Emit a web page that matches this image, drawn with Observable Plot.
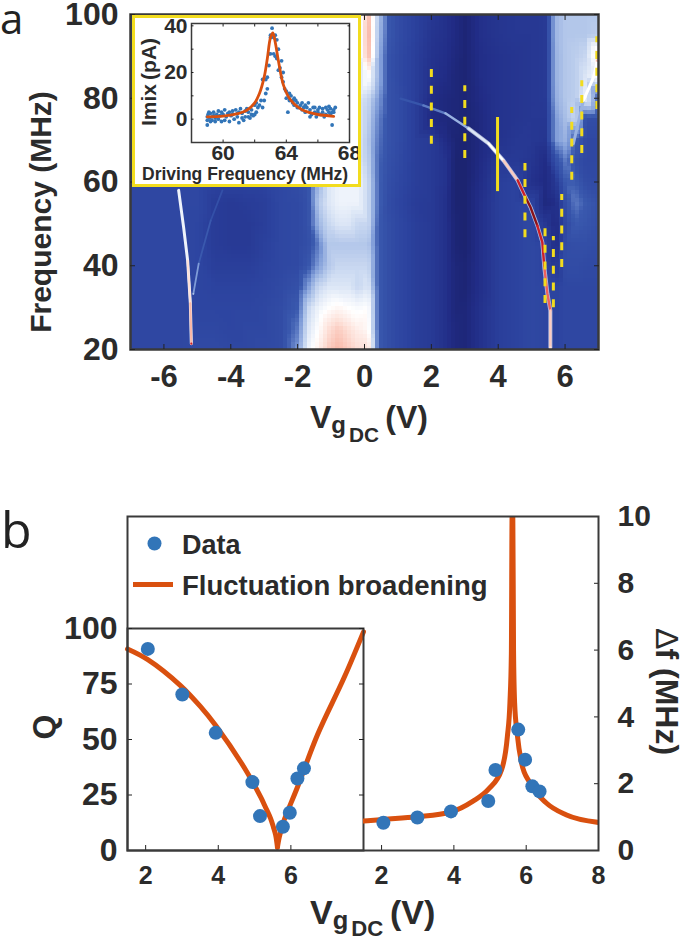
<!DOCTYPE html>
<html><head><meta charset="utf-8">
<script src="https://cdn.jsdelivr.net/npm/d3@7"></script>
<script src="https://cdn.jsdelivr.net/npm/@observablehq/plot@0.6"></script>
<style>
html,body{margin:0;padding:0;background:#fff;}
#page{position:relative;width:685px;height:943px;overflow:hidden;font-family:"Liberation Sans",Arial,sans-serif;color:#2b2b2b;}
#page svg{position:absolute;background:transparent;overflow:visible;}
.lab{position:absolute;font-weight:700;white-space:nowrap;line-height:1;}
.let{position:absolute;font-family:"Open Sans",sans-serif;font-weight:400;color:#222;}
</style></head><body><div id="page"></div>
<script>
// Heat map: sample columns (gate voltage), rows (frequency) and level per row
const heatV = [-7,-6.5,-6,-5.5,-5,-4.5,-4,-3.5,-3,-2.5,-2,-1.7,-1.4,-1.1,-0.8,-0.5,-0.2,0.1,0.4,0.7,1,1.5,2,2.4,2.7,3,3.5,4,4.5,5,5.4,5.7,6,6.3,6.6,7];
const heatF = [100,95,90,85,80,75,70,65,60,55,50,45,40,35,30,25,20];
const row100=[2.2,2.2,2.2,2.2,2.2,2.2,2.2,2.2,2.2,2.2,2.4,2.6,3,4,5,6,6,9,5,2.9,2.4,1.9,1.5,1.2,0.9,0.6,1.2,1.4,1.5,1.5,1.6,4.6,5,5,5,5];
const row95 =[2.2,2.2,2.2,2.2,2.2,2.2,2.2,2.2,2.2,2.2,2.4,2.6,3,4,5,6,6,9.2,4.8,2.9,2.4,1.9,1.4,1.2,0.9,0.6,1.2,1.4,1.5,1.5,1.6,4.6,5,5,5,5.2];
const row90 =[2.2,2.2,2.2,2.2,2.2,2.2,2.2,2.2,2.2,2.2,2.4,2.6,3,4,5,6,6,9,4.5,2.7,2.3,1.8,1.3,1.1,0.8,0.6,1.1,1.3,1.4,1.5,1.6,4.5,5,5.2,5.5,8];
const row85 =[2.2,2.2,2.2,2.2,2.2,2.2,2.2,2.2,2.2,2.2,2.4,2.6,3,4,5,6,6,7,4.5,2.7,2.3,1.8,1.2,1,0.7,0.6,1.1,1.3,1.4,1.5,1.6,4.5,5,5.2,6,7];
const row80 =[2.2,2.2,2.2,2.2,2.2,2.2,2.2,2.2,2.2,2.2,2.4,2.6,3,4,5,6,6,5.5,4,2.7,2.4,1.8,1,0.8,0.7,0.6,1,1.3,1.4,1.5,1.6,4.4,5,5.2,6.5,3];
const row75 =[2.2,2.2,2.2,2.2,2.2,2.2,2.2,2.2,2.2,2.2,2.4,2.6,3,4,5,6,6,5.2,3.6,2.7,2.4,1.8,0.9,0.8,0.7,0.6,0.9,1.3,1.4,1.5,1.5,4,4.8,5.5,2.5,2.4];
const row70 =[2.2,2.2,2.2,2.2,2.2,2.2,2.2,2.2,2.2,2.2,2.4,2.6,3,4,5,6,6,5,3.4,2.7,2.4,1.8,1.6,1,0.6,0.5,0.9,1.3,1.5,1.5,1.4,4,4.5,3,2.2,2.2];
const row65 =[2.2,2.2,2.2,2.2,2.2,2.2,2.2,2.2,2.2,2.2,2.4,2.6,4,5,6,6,6,5.2,3.2,2.6,2.3,1.8,1.6,1.3,0.5,0.5,1,1.6,1.6,1.4,1,2.5,3.5,2.5,2.2,2.2];
const row60 =[2.2,2.2,2.2,2.2,2.2,2,2,2,2,2.2,2.4,2.6,4.5,6,6.5,6.5,6.5,5.5,3.2,2.5,2.2,1.8,1.6,1.3,0.5,0.5,1.1,1.8,2,1.2,0.9,1.5,3,3,2.4,2.3];
const row55 =[2.2,2.2,2.2,2.2,2.2,1.7,1.6,1.7,1.8,2.2,2.3,2.6,5,6,6.5,6.5,6.5,5.5,3.2,2.4,2.1,1.7,1.6,1.2,0.5,0.5,1.2,1.8,2,2,0.8,1,2.5,3.5,3,2.6];
const row50 =[2.2,2.2,2.2,2.2,2.1,1.7,1.6,1.6,1.8,2.2,2.3,2.6,4.5,5.5,6,6,5.5,5.5,3,2.5,2.2,1.8,1.6,1.2,0.6,0.5,1.2,1.8,2,2.2,1.5,0.9,2.2,3,2.8,2.5];
const row45 =[2.2,2.2,2.2,2.2,2.1,1.7,1.6,1.6,1.9,2.2,2.3,2.5,3.5,5,5,5,5,5,3,2.5,2.2,1.8,1.6,1.2,0.6,0.5,1.2,1.8,2,2.2,2,1,2.4,2.5,2.5,2.4];
const row40 =[2.2,2.2,2.2,2.2,2.1,1.8,1.8,1.8,2,2.2,2.3,2.8,4,5,5.5,5.5,5.5,5.5,3,2.5,2.2,1.8,1.6,1.2,0.7,0.6,1.2,1.8,2,2.2,2,1.5,2.4,2.4,2.3,2.3];
const row35 =[2.2,2.2,2.2,2.2,2.1,2,2,2,2.1,2.3,2.6,4,5.5,6,6,6,5.5,6,3,2.5,2.2,1.8,1.6,1.2,0.7,0.6,1.2,1.8,2,2.2,2.1,2,2.2,2.2,2.2,2.2];
const row30 =[2.2,2.2,2.2,2.2,2.1,2.1,2.1,2.1,2.2,2.4,3,5.5,6.5,7,7.3,7,6.8,7,3,2.5,2.2,1.8,1.6,1.2,0.7,0.7,1.3,1.8,2,2.2,2.1,2,2.2,2.2,2.2,2.2];
const row25 =[2.2,2.2,2.2,2.2,2.2,2.2,2.1,2.2,2.2,2.4,3.5,6,7,8,8.5,8,7.5,7.2,3,2.5,2.2,1.8,1.6,1.2,0.8,0.7,1.3,1.8,2,2.2,2.1,2,2.2,2.2,2.2,2.2];
const row20 =[2.2,2.2,2.2,2.2,2.3,2.3,2.2,2.2,2.3,2.4,4,6.5,7.5,8.5,9,8.5,8,8,3,2.5,2.2,1.8,1.6,1.2,0.8,0.7,1.3,1.8,2,2.2,2.1,2,2.2,2.2,2.2,2.2];
const heatRows=[row100,row95,row90,row85,row80,row75,row70,row65,row60,row55,row50,row45,row40,row35,row30,row25,row20];
const levels=[0,1,2,3,4,5,6,7,8,9,10,11,12];
const levelColors=["#161b5c","#212c86","#2c439f","#3a59ae","#7f9cd8","#b3c7ea","#dce6f6","#ffffff","#fde0d8","#f9b8a8","#f0605a","#cc2028","#8a1218"];

// Resonance traces: gate voltage, frequency, level
const mainV=[1.08,1.76,2.42,3.11,3.71,4.16,4.58,4.82,4.97,5.17,5.32,5.38,5.47,5.56,5.56];
const mainF=[79.9,78.3,76.4,72.8,69.2,65.1,60.4,56.3,53.9,49.6,45.6,39.6,33.4,29.3,20.5];
const mainL=[2.8,3.5,4.5,6,7,8.5,11,12,12,11,11,10,10,8.5,8];
const leftV=[-5.56,-5.41,-5.29,-5.21,-5.18];
const leftF=[58,49.1,41.2,31,21.4];
const leftL=[7,7.3,8,9,11];
const faintV=[-4.25,-4.6,-4.96,-5.12];
const faintF=[58,50.8,40.5,33.3];
const faintL=[2.6,3,4,5];
const rightV=[6.25,6.55,6.85,6.97];
const rightF=[69.2,79.5,85,89];
const rightL=[4.5,7,7,9];

// Yellow markers
const dashV=[2,3,4.8,5.4,5.65,5.9,6.2,6.5,6.95];
const dashLo=[69,65.6,46.7,31,30,39.6,60.4,66.8,77.3];
const dashHi=[87,83,64.4,49,47,57,77.8,84.2,94.7];
const solidV=[3.98];
const solidLo=[57.7];
const solidHi=[75.4];

// Inset
const fitF=[59,60,61,61.5,62,62.3,62.6,62.8,63,63.15,63.3,63.5,63.8,64.1,64.5,65,65.5,66,67];
const fitI=[1,1.3,2.5,3.8,7,11,18,26,35,37,33,25,15,10,6.5,4,2.8,2,1.2];
const scatF=[59,59,59,59.05,59.1,59.15,59.2,59.2,59.3,59.3,59.4,59.4,59.5,59.5,59.6,59.7,59.7,59.8,59.9,59.9,60,60.1,60.1,60.2,60.3,60.4,60.4,60.5,60.6,60.6,60.7,60.8,60.9,60.9,61,61,61.1,61.2,61.2,61.3,61.4,61.4,61.5,61.6,61.6,61.7,61.8,61.8,61.9,62,62,62.1,62.1,62.2,62.3,62.4,62.5,62.5,62.6,62.7,62.7,62.8,62.8,62.9,62.9,63,63,63,63.1,63.1,63.2,63.2,63.3,63.3,63.4,63.4,63.5,63.5,63.6,63.7,63.7,63.8,63.8,63.9,64,64,64.1,64.2,64.2,64.3,64.4,64.4,64.5,64.5,64.6,64.7,64.7,64.8,64.9,65,65,65.1,65.2,65.2,65.3,65.4,65.5,65.5,65.6,65.7,65.8,65.8,65.9,66,66,66.1,66.2,66.3,66.3,66.4,66.5,66.5,66.6,66.7,66.7,66.8,66.8,66.9,66.9,67,67,67.1];
const scatI=[-0.5,1,-2.5,2,3,0.5,-1,2.5,1,-0.5,3,1.5,0.5,-1,2,3.5,0,1.5,-1,3,2,-0.5,4,1,2.5,3,-1,1.5,2,3.5,0,4,1,2.5,-1.5,3,4.5,0.5,2.5,-0.5,3.5,1,4.5,1,3,0.5,4,2,1.5,6,2,7,3,5,6,8,5,17,8,11,17,13,18,23,28,35,28,36,36,39,35,28,36,27,34,26,30,21,22,25,18,20,16,13,12,9,3,11,8,10,7,8,9,6,8,5,7,5,6,7,4,5,6,3,5,7,1,4,2,5,3,5,1,4,3,5,2,4.5,3,1,5,2,4,3,5.5,2,4.5,3,-2.5,4,3,5,4.5];

// Panel b
const qFallV=[1.5,2.06,2.96,3.5,3.93,4.71,5.17,5.3,5.44,5.52,5.58,5.63];
const qFallQ=[90.8,86,74.3,65,56.3,37.5,24,19.5,14.5,10.5,7,1.5];
const qRiseV=[5.63,5.68,5.74,5.81,6.18,6.73,7.47,8];
const qRiseQ=[1.5,6,9.5,13.5,28.5,52,78,98.5];
const qDotV=[2.06,3.01,3.93,4.94,5.15,5.78,5.97,6.18,6.36];
const qDotQ=[90.8,70.3,53,30.8,15.5,10.7,17,32.4,37];
const dfCurveV=[1.5,2.05,2.97,3.9,4.53,4.95,5.32,5.48,5.55,5.59,5.61,5.63,5.65,5.68,5.75,5.87,6.1,6.55,7.1,8];
const dfCurveD=[0.88,0.93,1.01,1.15,1.48,1.83,2.42,3.42,4.42,5.9,10,10,6,4.42,3.5,2.63,2.03,1.43,1.07,0.84];
const dfDotV=[2.05,2.99,3.92,4.95,5.15,5.78,5.97,6.17,6.37];
const dfDotD=[0.83,0.99,1.17,1.48,2.41,3.62,2.72,1.92,1.77];
const heatTicksX=[-6,-4,-2,0,2,4,6];
const heatTicksY=[20,40,60,80,100];
const qTicks=[0,25,50,75,100];
const dfTicks=[0,2,4,6,8,10];

const INK="#2b2b2b", ORANGE="#d9500f", BLUE="#3275b8", YELLOW="#f2dc1e";
const page=document.getElementById("page");
const zip=(...a)=>a[0].map((_,i)=>a.map(c=>c[i]));
const plain=d=>String(d);
function place(svg,l,t){svg.style.left=l+"px";svg.style.top=t+"px";page.appendChild(svg);return svg;}
function label(html,css){const d=document.createElement("div");d.className="lab";d.innerHTML=html;d.style.cssText+=css;page.appendChild(d);return d;}

// ---- a: heat map
const heatPts=heatF.flatMap((f,j)=>heatV.map((v,i)=>({v,f,z:heatRows[j][i]})));
const tr=(V,F,L)=>zip(V,F,L).map(([v,f,z])=>({v,f,z}));
const mainT=tr(mainV,mainF,mainL),leftT=tr(leftV,leftF,leftL),faintT=tr(faintV,faintF,faintL),rightT=tr(rightV,rightF,rightL);
place(Plot.plot({
  width:685,height:400,marginLeft:130,marginRight:87,marginTop:14,marginBottom:51,
  style:{fontFamily:"Liberation Sans",background:"transparent"},
  x:{domain:[-7,7],label:null},y:{domain:[20,100],label:null},
  color:{type:"linear",domain:levels,range:levelColors,clamp:true},
  marks:[
    Plot.raster(heatPts,{x:"v",y:"f",fill:"z",interpolate:"barycentric",pixelSize:4,imageRendering:"pixelated"}),
    Plot.line(mainT.slice(3),{x:"v",y:"f",stroke:"#e9f0fb",strokeWidth:4,strokeOpacity:.7}),
    Plot.line(mainT,{x:"v",y:"f",stroke:"z",z:null,strokeWidth:2.4}),
    Plot.line(faintT,{x:"v",y:"f",stroke:"z",z:null,strokeWidth:1.8}),
    Plot.line(leftT,{x:"v",y:"f",stroke:"#eef3fb",strokeWidth:3}),
    Plot.line(leftT.slice(2),{x:"v",y:"f",stroke:"z",z:null,strokeWidth:2.2}),
    Plot.line(rightT,{x:"v",y:"f",stroke:"z",z:null,strokeWidth:3}),
    Plot.ruleX(dashV,{x:d=>d,y1:(d,i)=>dashLo[i],y2:(d,i)=>dashHi[i],stroke:YELLOW,strokeWidth:3,strokeDasharray:"8,8.7"}),
    Plot.ruleX(solidV,{x:d=>d,y1:(d,i)=>solidLo[i],y2:(d,i)=>solidHi[i],stroke:YELLOW,strokeWidth:3}),
    Plot.frame({stroke:"#3a3a3a",strokeWidth:2.5}),
    Plot.axisX({ticks:heatTicksX,tickSize:-5,tickPadding:20,fontSize:31,fontWeight:700,color:INK,stroke:"#222",tickFormat:d=>d<0?"-"+(-d):String(d)}),
    Plot.axisX({anchor:"top",ticks:heatTicksX,tickSize:-5,tickFormat:()=>"",stroke:"#222"}),
    Plot.axisY({ticks:heatTicksY,tickSize:-5,tickPadding:17,fontSize:32,fontWeight:700,color:INK,stroke:"#222",tickFormat:plain}),
    Plot.axisY({anchor:"right",ticks:heatTicksY,tickSize:-5,tickFormat:()=>"",stroke:"#222"})
  ]}),0,0);

// ---- inset
const insetBox=Plot.plot({
  width:227,height:170,marginLeft:58,marginRight:11,marginTop:7,marginBottom:44,
  style:{fontFamily:"Liberation Sans",background:"#fff"},
  x:{domain:[58,68],label:null},y:{domain:[-10,41],label:null},
  marks:[
    Plot.frame({stroke:"#3a3a3a",strokeWidth:1.5}),
    Plot.dot(zip(scatF,scatI),{x:"0",y:"1",r:1.9,fill:BLUE}),
    Plot.line(zip(fitF,fitI),{x:"0",y:"1",stroke:ORANGE,strokeWidth:2.8,curve:"catmull-rom"}),
    Plot.axisX({ticks:[60,64,68],tickSize:0,tickPadding:3,fontSize:21,fontWeight:700,color:INK,tickFormat:plain}),
    Plot.axisX({ticks:[60,62,64,66,68],tickSize:-2.5,tickFormat:()=>"",stroke:"#222"}),
    Plot.axisX({anchor:"top",ticks:[60,62,64,66,68],tickSize:-2.5,tickFormat:()=>"",stroke:"#222"}),
    Plot.axisY({ticks:[0,20,40],tickSize:0,tickPadding:4,fontSize:21,fontWeight:700,color:INK,tickFormat:plain}),
    Plot.axisY({ticks:[0,10,20,30,40],tickSize:-2.5,tickFormat:()=>"",stroke:"#222"}),
    Plot.axisY({anchor:"right",ticks:[0,10,20,30,40],tickSize:-2.5,tickFormat:()=>"",stroke:"#222"})
  ]});
place(insetBox,133,16);
insetBox.style.outline="3px solid "+YELLOW;
insetBox.style.outlineOffset="-2px";

// ---- b: left panel (Q)
place(Plot.plot({
  width:363,height:900,marginLeft:127,marginRight:0,marginTop:628,marginBottom:50,
  style:{fontFamily:"Liberation Sans",background:"transparent"},
  x:{domain:[1.5,8],label:null},y:{domain:[0,100],label:null},
  marks:[
    Plot.line(zip(qFallV,qFallQ),{x:"0",y:"1",stroke:ORANGE,strokeWidth:5,curve:"catmull-rom"}),
    Plot.line(zip(qRiseV,qRiseQ),{x:"0",y:"1",stroke:ORANGE,strokeWidth:5,curve:"catmull-rom"}),
    Plot.dot(zip(qDotV,qDotQ),{x:"0",y:"1",r:7,fill:BLUE}),
    Plot.frame({stroke:"#3a3a3a",strokeWidth:2}),
    Plot.axisX({ticks:[2,4,6],tickSize:-5,tickPadding:21,fontSize:25,fontWeight:700,color:INK,stroke:"#222",tickFormat:plain}),
    Plot.axisY({ticks:qTicks,tickSize:-5,tickPadding:15,fontSize:32,fontWeight:700,color:INK,stroke:"#222",tickFormat:plain}),
    Plot.axisY({anchor:"right",ticks:qTicks,tickSize:-5,tickFormat:()=>"",stroke:"#222"})
  ]}),0,0);

// ---- b: right panel (delta f)
place(Plot.plot({
  width:685,height:900,marginLeft:363,marginRight:87,marginTop:516,marginBottom:50,
  style:{fontFamily:"Liberation Sans",background:"transparent"},
  x:{domain:[1.5,8],label:null},y:{domain:[0,10],label:null},
  marks:[
    Plot.line(zip(dfCurveV,dfCurveD),{x:"0",y:"1",stroke:ORANGE,strokeWidth:5,curve:"monotone-x",clip:true}),
    Plot.dot(zip(dfDotV,dfDotD),{x:"0",y:"1",r:7,fill:BLUE}),
    Plot.axisX({ticks:[2,4,6,8],tickSize:-5,tickPadding:21,fontSize:25,fontWeight:700,color:INK,stroke:"#222",tickFormat:plain}),
    Plot.axisY({anchor:"right",ticks:dfTicks,tickSize:-5,tickPadding:24,fontSize:30,fontWeight:700,color:INK,stroke:"#222",tickFormat:plain})
  ]}),0,0);

// ---- b: outer frame and legend
place(Plot.plot({
  width:685,height:900,marginLeft:127,marginRight:87,marginTop:516,marginBottom:50,
  style:{background:"transparent"},
  x:{domain:[127,598],axis:null},y:{domain:[850,516],axis:null},
  marks:[
    Plot.frame({stroke:"#3a3a3a",strokeWidth:2}),
    Plot.dot([["Data"]],{x:()=>154,y:()=>543,r:7,fill:BLUE}),
    Plot.ruleY([["Fluctuation broadening"]],{y:()=>584,x1:()=>133,x2:()=>173,stroke:ORANGE,strokeWidth:5})
  ]}),0,0);

// ---- text
const vgLabel=(px,dc)=>`<span style="font-size:${px}px">V</span><span style="font-size:${px*.75}px;position:relative;top:${px*.16}px">g</span><span style="font-size:${px*.65}px;position:relative;top:${dc}px;margin-left:${px*.09}px">DC</span><span style="font-size:${px}px;margin-left:${px*.2}px">(V)</span>`;
label("Data","left:182px;top:532px;font-size:27px;");
label("Fluctuation broadening","left:182px;top:572px;font-size:27.5px;");
label("Imix&#8201;(pA)","left:148px;top:82px;font-size:21px;transform:translate(-50%,-50%) rotate(-90deg);");
label("Driving Frequency (MHz)","left:142px;top:166px;font-size:17.5px;");
label("Frequency (MHz)","left:41px;top:212px;font-size:30px;transform:translate(-50%,-50%) rotate(-90deg);");
label(vgLabel(32,14),"left:310px;top:401px;");
label("Q","left:44px;top:727px;font-size:32px;transform:translate(-50%,-50%) rotate(-90deg);");
label(vgLabel(34,12),"left:310px;top:895px;");
label('<span style="font-weight:400">∆</span>f (MHz)',"left:667px;top:692px;font-size:32px;transform:translate(-50%,-50%) rotate(90deg);");
const a=document.createElement("div");a.className="let";a.textContent="a";a.style.cssText+="left:0;top:3px;font-size:42px;line-height:30px;";page.appendChild(a);
const b=document.createElement("div");b.className="let";b.textContent="b";b.style.cssText+="left:1px;top:504px;font-size:50px;line-height:1;";page.appendChild(b);
</script></body></html>
